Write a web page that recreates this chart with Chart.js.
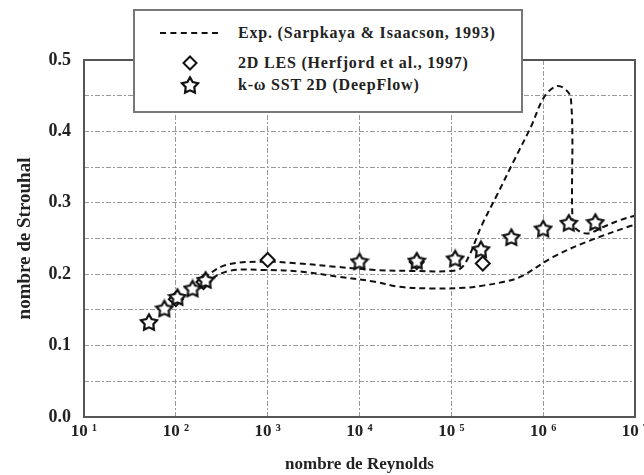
<!DOCTYPE html>
<html>
<head>
<meta charset="utf-8">
<script src="https://cdn.jsdelivr.net/npm/chart.js@4.4.1/dist/chart.umd.min.js"></script>
<style>
  body { margin: 0; background: #fff; }
  #wrap { position: relative; width: 644px; height: 475px; }
  #legend {
    position: absolute; left: 133px; top: 9px; width: 386px; height: 100px;
    border: 2px solid #777; background: #fff;
    font-family: "Liberation Serif", "DejaVu Serif", serif; font-size: 16px; font-weight: bold; color: #222;
    letter-spacing: 0.8px;
  }
  .row { position: absolute; left: 0; height: 20px; line-height: 20px; }
  .row span { position: absolute; left: 103px; white-space: nowrap; }
  .row .mark { position: absolute; left: 46px; top: 0; }
  .dash { position: absolute; left: 25px; top: 9px; width: 58px; border-top: 2px dashed #111; }
</style>
</head>
<body>
<div id="wrap">
  <canvas id="chart" width="644" height="475"></canvas>
  <div id="legend">
    <div class="row" style="top:12px"><div class="dash"></div><span>Exp. (Sarpkaya &amp; Isaacson, 1993)</span></div>
    <div class="row" style="top:42px" id="rowLes"><span>2D LES (Herfjord et al., 1997)</span></div>
    <div class="row" style="top:64px" id="rowSst"><span>k-ω SST 2D (DeepFlow)</span></div>
  </div>
</div>
<script>
// x: Reynolds number, y: Strouhal number
const expUpperRe = [200, 350, 870, 2000, 5400, 1.47e4, 4e4, 1e5, 1.29e5, 1.58e5, 2.11e5, 3.2e5, 4.85e5, 7.36e5,
                    1.03e6, 1.43e6, 1.91e6, 2.03e6, 2.08e6, 2.08e6, 2.26e6, 3.02e6, 4.58e6, 6.95e6, 1e7]
const expUpperSt = [0.195, 0.213, 0.2175, 0.2155, 0.2105, 0.206, 0.2045, 0.2045, 0.209, 0.227, 0.2665, 0.313, 0.36, 0.4065,
                    0.4485, 0.4635, 0.4535, 0.435, 0.393, 0.281, 0.264, 0.257, 0.2665, 0.276, 0.282]

const expLowerRe = [200, 378, 946, 2360, 5890, 1.47e4, 2.64e4, 6.07e4, 1.39e5, 2.2e5, 3.78e5, 5.7e5, 1.3e6, 3e6, 8.9e6, 1e7]
const expLowerSt = [0.188, 0.2045, 0.2059, 0.2035, 0.1965, 0.1895, 0.1825, 0.180, 0.181, 0.184, 0.1895, 0.1965, 0.2245, 0.2455, 0.2675, 0.269]

const lesRe = [100, 200, 1000, 4.2e4, 2.2e5]
const lesSt = [0.165, 0.189, 0.220, 0.217, 0.215]

const sstRe = [51, 75, 104, 152, 211, 1.0e4, 4.2e4, 1.1e5, 2.1e5, 4.5e5, 1.0e6, 1.9e6, 3.7e6]
const sstSt = [0.133, 0.152, 0.168, 0.180, 0.192, 0.218, 0.219, 0.222, 0.235, 0.252, 0.264, 0.272, 0.273]

const xTickValues = [1e1, 1e2, 1e3, 1e4, 1e5, 1e6, 1e7]
const xTickLabels = ['10 ¹', '10 ²', '10 ³', '10 ⁴', '10 ⁵', '10 ⁶', '10 ⁷']
const yTickValues = [0, 0.05, 0.1, 0.15, 0.2, 0.25, 0.3, 0.35, 0.4, 0.45, 0.5]
const yTickLabels = ['0.0', '', '0.1', '', '0.2', '', '0.3', '', '0.4', '', '0.5']

const SERIF = '"Liberation Serif", "DejaVu Serif", serif'
const toPts = (xs, ys) => xs.map((x, i) => ({ x, y: ys[i] }))

function makeStar(size) {
  const c = document.createElement('canvas')
  c.width = c.height = size
  const g = c.getContext('2d')
  const cx = size / 2, cy = size / 2 + 0.8, R = size / 2 - 1.6, r = R * 0.54
  g.beginPath()
  for (let i = 0; i < 10; i++) {
    const a = -Math.PI / 2 + i * Math.PI / 5
    const rad = i % 2 ? r : R
    g.lineTo(cx + rad * Math.cos(a), cy + rad * Math.sin(a))
  }
  g.closePath()
  g.fillStyle = '#fff'
  g.fill()
  g.lineWidth = 2.2
  g.strokeStyle = '#111'
  g.stroke()
  return c
}

function makeDiamond(size) {
  const c = document.createElement('canvas')
  c.width = c.height = size
  const g = c.getContext('2d')
  const m = size / 2, r = size / 2 - 1.5
  g.beginPath()
  g.moveTo(m, m - r); g.lineTo(m + r, m); g.lineTo(m, m + r); g.lineTo(m - r, m)
  g.closePath()
  g.fillStyle = '#fff'
  g.fill()
  g.lineWidth = 2
  g.strokeStyle = '#111'
  g.stroke()
  return c
}

const starImg = makeStar(20)

// legend markers
const lm1 = makeDiamond(16); lm1.className = 'mark'; lm1.style.left = '47px'; lm1.style.top = '2px'
document.getElementById('rowLes').appendChild(lm1)
const lm2 = makeStar(20); lm2.className = 'mark'; lm2.style.left = '45px'; lm2.style.top = '0px'
document.getElementById('rowSst').appendChild(lm2)

const plotBox = {
  id: 'plotBox',
  afterDatasetsDraw(chart) {
    const { ctx, chartArea: a } = chart
    ctx.save()
    ctx.strokeStyle = '#555'
    ctx.lineWidth = 2
    ctx.strokeRect(a.left, a.top, a.right - a.left, a.bottom - a.top)
    ctx.restore()
  }
}

const expStyle = {
  type: 'line',
  borderColor: '#111',
  borderWidth: 2,
  borderDash: [6, 4],
  pointRadius: 0,
  fill: false,
  tension: 0.35,
  order: 3
}

new Chart(document.getElementById('chart'), {
  type: 'scatter',
  data: {
    datasets: [
      { ...expStyle, label: 'Exp. upper', data: toPts(expUpperRe, expUpperSt) },
      { ...expStyle, label: 'Exp. lower', data: toPts(expLowerRe, expLowerSt) },
      {
        label: '2D LES (Herfjord et al., 1997)',
        data: toPts(lesRe, lesSt),
        pointStyle: 'rectRot',
        pointRadius: 7,
        backgroundColor: '#fff',
        borderColor: '#111',
        borderWidth: 2,
        order: 2
      },
      {
        label: 'k-ω SST 2D (DeepFlow)',
        data: toPts(sstRe, sstSt),
        pointStyle: starImg,
        order: 1
      }
    ]
  },
  options: {
    responsive: false,
    animation: false,
    layout: { padding: { top: 60, right: 6, left: 0, bottom: 0 } },
    plugins: { legend: { display: false }, tooltip: { enabled: false } },
    scales: {
      x: {
        type: 'logarithmic',
        min: 1e1,
        max: 1e7,
        afterBuildTicks: s => { s.ticks = xTickValues.map(v => ({ value: v })) },
        afterFit: s => { s.height = 58; s.paddingLeft = 0; s.paddingRight = 0 },
        ticks: {
          autoSkip: false,
          maxRotation: 0,
          padding: 4,
          color: '#222',
          font: { family: SERIF, size: 17, weight: 'bold' },
          callback: (v, i) => xTickLabels[i]
        },
        grid: { color: '#999', lineWidth: 1, drawTicks: false },
        border: { display: false, dash: [5, 2, 2, 2] },
        title: {
          display: true,
          text: 'nombre de Reynolds',
          color: '#222',
          padding: { top: 0, bottom: 0 },
          font: { family: SERIF, size: 17, weight: 'bold' }
        }
      },
      y: {
        min: 0,
        max: 0.5,
        afterBuildTicks: s => { s.ticks = yTickValues.map(v => ({ value: v })) },
        afterFit: s => { s.width = 84; s.paddingTop = 0; s.paddingBottom = 0 },
        ticks: {
          padding: 13,
          color: '#222',
          font: { family: SERIF, size: 18, weight: 'bold' },
          callback: (v, i) => yTickLabels[i]
        },
        grid: { color: '#999', lineWidth: 1, drawTicks: false },
        border: { display: false, dash: [5, 2, 2, 2] },
        title: {
          display: true,
          text: 'nombre de Strouhal',
          color: '#222',
          padding: { top: 14, bottom: 0 },
          font: { family: SERIF, size: 19, weight: 'bold' }
        }
      }
    }
  },
  plugins: [plotBox]
})
</script>
</body>
</html>
